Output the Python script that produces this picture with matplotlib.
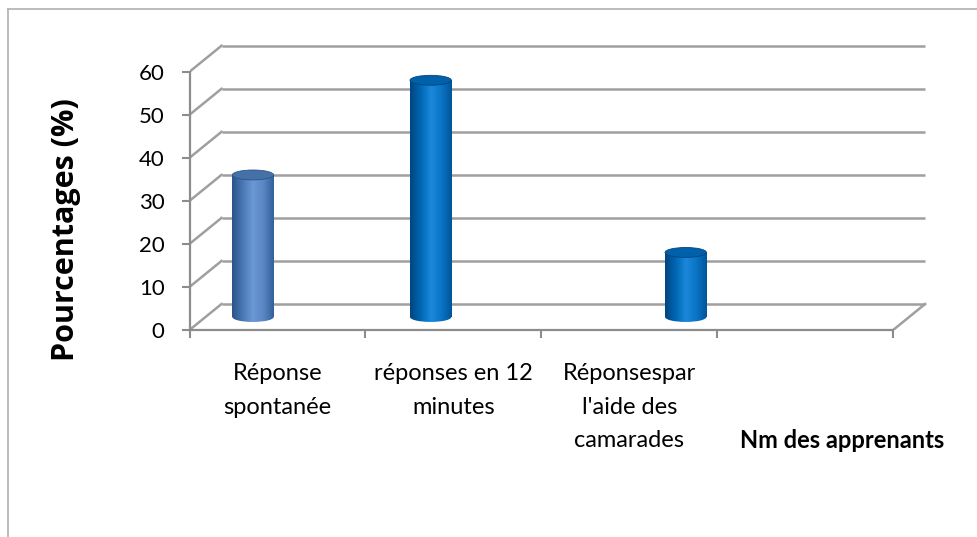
import numpy as np
import matplotlib
matplotlib.use("Agg")
import matplotlib.pyplot as plt
from matplotlib.patches import Rectangle, Ellipse
from matplotlib.lines import Line2D
from matplotlib.colors import LinearSegmentedColormap

# data
categories = ["Réponse\nspontanée", "réponses en 12\nminutes",
              "Réponsespar\nl'aide des\ncamarades", ""]
values = [33, 55, 15]
yticks = [0, 10, 20, 30, 40, 50, 60]

# where each cylinder sits inside its category (front plane)
bar_pos = [0.27, 1.28, 2.73]
bar_shades = [
    ["#2b5487", "#4877b5", "#6c99d4", "#5a87c4", "#33609a"],
    ["#00457e", "#0066b3", "#1b88da", "#0a74c4", "#00549a"],
    ["#00457e", "#0066b3", "#1b88da", "#0a74c4", "#00549a"],
]
top_cols = ["#4670a8", "#0060aa", "#0060aa"]

plt.rcParams['font.family'] = ['Lato', 'DejaVu Sans']

fig = plt.figure(figsize=(9.77, 5.37), dpi=100)
# outer chart border
fig.add_artist(Line2D([8/977, 8/977], [0, 1 - 9/537], color="#b0b0b0", lw=1.2))
fig.add_artist(Line2D([8/977, 1], [1 - 9/537, 1 - 9/537], color="#b0b0b0", lw=1.2))

ax = fig.add_axes([189.5/977, 207/537, 756.4/977, 292.7/537])
ax.set_xlim(0, 4.3)
ax.set_ylim(0, 68)

dxb = 32/175.9   # depth offset in x units
dyb = 26/4.305   # depth offset in y units
grid = "#9f9f9f"

# back wall and side wall
for v in yticks:
    ax.plot([dxb, 4 + dxb], [v + dyb, v + dyb], color=grid, lw=1.8, zorder=1,
            solid_capstyle="butt")
    ax.plot([0, dxb], [v, v + dyb], color=grid, lw=1.8, zorder=1)
# floor right edge
ax.plot([4, 4 + dxb], [0, dyb], color=grid, lw=1.8, zorder=1)

# spines / ticks
for s in ["top", "right"]:
    ax.spines[s].set_visible(False)
ax.spines["left"].set_bounds(0, 60)
ax.spines["bottom"].set_bounds(0, 4)
for s in ["left", "bottom"]:
    ax.spines[s].set_color("#8c8c8c")
    ax.spines[s].set_linewidth(1.6)

ax.set_yticks(yticks)
ax.set_yticklabels([str(t) for t in yticks])
ax.set_xticks([0, 1, 2, 3, 4])
ax.set_xticklabels([])
ax.set_xticks([0.5, 1.5, 2.5, 3.5], minor=True)
ax.set_xticklabels(categories, minor=True, linespacing=1.72)
ax.tick_params(axis="y", length=6, width=1.5, color="#8c8c8c", labelsize=16,
               pad=12, labelcolor="black")
ax.tick_params(axis="x", which="major", length=6, width=1.5, color="#8c8c8c")
ax.tick_params(axis="x", which="minor", length=0, labelsize=17, pad=24)

# cylinders
w = 0.235
eh = 2.3
base = dyb / 2
grad = np.linspace(0, 1, 256).reshape(1, -1)
for xp, val, shades, tc in zip(bar_pos, values, bar_shades, top_cols):
    xc = xp + dxb / 2
    top = base + val
    cmap = LinearSegmentedColormap.from_list("cyl", shades)
    ext = [xc - w/2, xc + w/2, base - eh/2, top]
    body = Rectangle((xc - w/2, base), w, val, transform=ax.transData)
    bottom = Ellipse((xc, base), w, eh, transform=ax.transData)
    for clip in (body, bottom):
        im = ax.imshow(grad, cmap=cmap, extent=ext, aspect="auto",
                       interpolation="bilinear", zorder=3)
        im.set_clip_path(clip)
    ax.add_patch(Ellipse((xc, top), w, eh, fc=tc, ec=shades[0], lw=0.6, zorder=4))

ax.set_xlim(0, 4.3)
ax.set_ylim(0, 68)

fig.text(66/977, 1 - 230/537, "Pourcentages (%)", rotation=90, ha="center",
         va="center", fontsize=22, fontweight="bold", family="Open Sans")
fig.text(842/977, 1 - 441/537, "Nm des apprenants", ha="center", va="center",
         fontsize=17, fontweight="bold")

fig.savefig("out.png", dpi=100)
